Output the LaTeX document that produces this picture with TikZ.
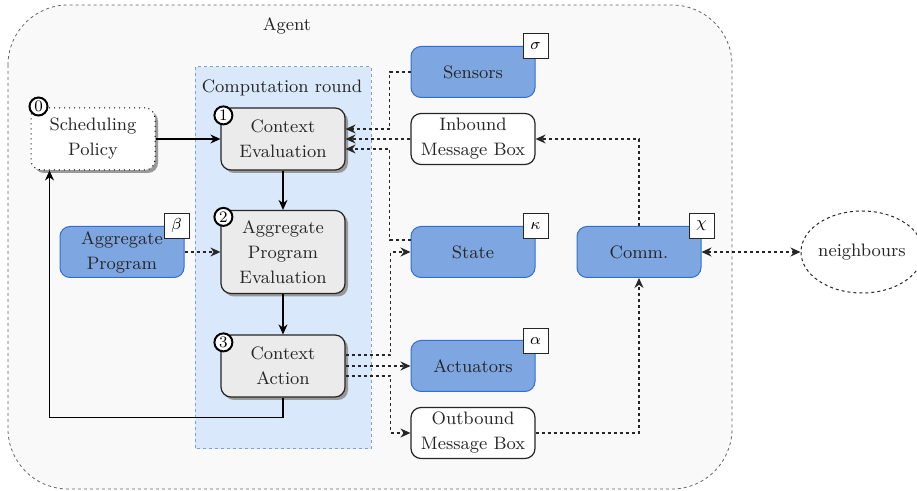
\documentclass[tikz,border=0pt]{standalone}
\usetikzlibrary{arrows.meta,shadows,shapes.geometric}
\definecolor{agentbg}{HTML}{F9F9F9}
\definecolor{roundbg}{HTML}{DAE8FC}
\definecolor{roundline}{HTML}{7EA0CF}
\definecolor{compfill}{HTML}{7EA6E0}
\definecolor{compline}{HTML}{2F6FD8}
\definecolor{stepfill}{HTML}{EBEBEB}
\begin{document}
\begin{tikzpicture}[x=0.5pt,y=-0.5pt,>={Stealth[length=5pt,width=4.5pt]},
	txt/.style={font=\fontsize{9}{12.5}\selectfont,align=center,text=black!85},
	boxbase/.style={txt,rounded corners=5pt,minimum width=62pt,inner sep=0pt},
	phase/.style={boxbase,draw=black!85,line width=0.6pt,fill=stepfill,minimum height=31pt,
		drop shadow={shadow xshift=1.5pt,shadow yshift=-1.5pt,fill=black!40,opacity=1}},
	comp/.style={boxbase,draw=compline,line width=0.5pt,fill=compfill,minimum height=25.5pt},
	mbox/.style={boxbase,draw=black!85,line width=0.6pt,fill=white,minimum height=25.5pt},
	badge/.style={circle,draw=black,line width=1pt,fill=white,inner sep=0pt,minimum size=9pt,font=\footnotesize},
	tag/.style={draw=black!85,line width=0.5pt,fill=white,inner sep=0pt,minimum size=12.5pt,font=\footnotesize},
	dsh/.style={draw=black!85,line width=0.6pt,dash pattern=on 1.5pt off 1.5pt},
	sld/.style={draw=black,line width=0.6pt}]
	\useasboundingbox (0,0) rectangle (917,491);
	\draw[fill=agentbg,draw=black!60,line width=0.4pt,dash pattern=on 1.5pt off 1.5pt,rounded corners=30pt] (8,5) rectangle (732,489);
	\node[txt] (agentlbl) at (287,26) {Agent};
	\draw[fill=roundbg,draw=roundline,line width=0.5pt,dash pattern=on 1.5pt off 1.5pt] (195,67) rectangle (371,449);
	\node[txt] (roundlbl) at (282,88) {Computation round};

	\node[boxbase,draw=black,line width=0.5pt,dotted,fill=white,minimum height=31pt,
		drop shadow={shadow xshift=1.5pt,shadow yshift=-1.5pt,fill=black!40,opacity=1}] (sched) at (93,139) {Scheduling\\Policy};
	\node[phase] (ctxeval) at (283,139) {Context\\Evaluation};
	\node[phase,minimum height=41.5pt] (apeval) at (283,252) {Aggregate\\Program\\Evaluation};
	\node[phase] (ctxact) at (283,366) {Context\\Action};
	\node[comp] (aprog) at (122,252) {Aggregate\\Program};
	\node[comp] (sens) at (473,72) {Sensors};
	\node[mbox] (inbox) at (473,139) {Inbound\\Message Box};
	\node[comp] (state) at (473,252) {State};
	\node[comp] (act) at (473,366) {Actuators};
	\node[mbox] (outbox) at (473,433) {Outbound\\Message Box};
	\node[comp] (comm) at (639,252) {Comm.};
	\node[ellipse,draw=black!85,line width=0.5pt,dash pattern=on 1.5pt off 1.5pt,inner sep=0pt,minimum width=61pt,minimum height=41pt] (nbrs) at (862,252) {};
	\node[txt] (nbrslbl) at (nbrs) {neighbours};

	\node[badge] (b0) at ([shift={(8,-1)}]sched.north west) {0};
	\node[badge] (b1) at ([shift={(3,8)}]ctxeval.north west) {1};
	\node[badge] (b2) at ([shift={(3,7)}]apeval.north west) {2};
	\node[badge] (b3) at ([shift={(3,8)}]ctxact.north west) {3};
	\node[tag] (tbeta) at ([shift={(-8,0)}]aprog.north east) {$\beta$};
	\node[tag] (tsigma) at (sens.north east) {$\sigma$};
	\node[tag] (tkappa) at (state.north east) {$\kappa$};
	\node[tag] (talpha) at ([shift={(0,1)}]act.north east) {$\alpha$};
	\node[tag] (tchi) at (comm.north east) {$\chi$};

	\draw[sld,->] (sched.east) -- (ctxeval.west);
	\draw[sld,->] (ctxeval.south) -- (apeval.north);
	\draw[sld,->] (apeval.south) -- (ctxact.north);
	\draw[sld,->] (ctxact.south) -- ++(0,20) -| ([shift={(19,0)}]sched.south west);
	\draw[dsh,->] (aprog.east) -- (apeval.west);
	\draw[dsh,->] (sens.west) -- ++(-21,0) |- ([shift={(0,-10)}]ctxeval.east);
	\draw[dsh,->] (inbox.west) -- (ctxeval.east);
	\draw[dsh,->] ([shift={(0,-12)}]state.west) -- ++(-21,0) |- ([shift={(0,10)}]ctxeval.east);
	\draw[dsh,->] ([shift={(0,-11)}]ctxact.east) -- ++(45,0) |- (state.west);
	\draw[dsh,->] (ctxact.east) -- (act.west);
	\draw[dsh,->] ([shift={(0,10)}]ctxact.east) -- ++(45,0) |- (outbox.west);
	\draw[dsh,->] (outbox.east) -| (comm.south);
	\draw[dsh,->] (comm.north) |- (inbox.east);
	\draw[dsh,<->] (comm.east) -- (nbrs.west);
\end{tikzpicture}
\end{document}
